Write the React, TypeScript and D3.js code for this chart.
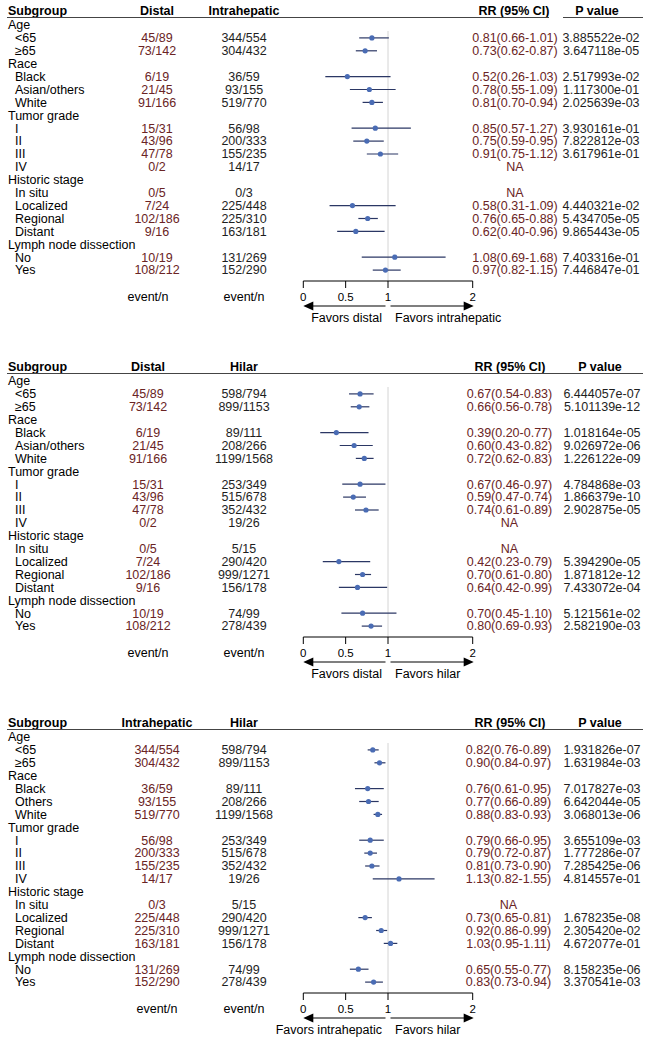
import React from "react";
import * as d3 from "d3";

// ---------- data ----------
const categories = ["Age", "Race", "Tumor grade", "Historic stage", "Lymph node dissection"];
const subgroupsA = [["<65", "≥65"], ["Black", "Asian/others", "White"], ["I", "II", "III", "IV"], ["In situ", "Localized", "Regional", "Distant"], ["No", "Yes"]];
const subgroupsB = [["<65", "≥65"], ["Black", "Others", "White"], ["I", "II", "III", "IV"], ["In situ", "Localized", "Regional", "Distant"], ["No", "Yes"]];
const axisTicks = [0, 0.5, 1, 2];

// Panel 1: Distal vs Intrahepatic
const p1Col1 = ["45/89", "73/142", "6/19", "21/45", "91/166", "15/31", "43/96", "47/78", "0/2", "0/5", "7/24", "102/186", "9/16", "10/19", "108/212"];
const p1Col2 = ["344/554", "304/432", "36/59", "93/155", "519/770", "56/98", "200/333", "155/235", "14/17", "0/3", "225/448", "225/310", "163/181", "131/269", "152/290"];
const p1RR = [0.81, 0.73, 0.52, 0.78, 0.81, 0.85, 0.75, 0.91, null, null, 0.58, 0.76, 0.62, 1.08, 0.97];
const p1Lo = [0.66, 0.62, 0.26, 0.55, 0.70, 0.57, 0.59, 0.75, null, null, 0.31, 0.65, 0.40, 0.69, 0.82];
const p1Hi = [1.01, 0.87, 1.03, 1.09, 0.94, 1.27, 0.95, 1.12, null, null, 1.09, 0.88, 0.96, 1.68, 1.15];
const p1P = ["3.885522e-02", "3.647118e-05", "2.517993e-02", "1.117300e-01", "2.025639e-03", "3.930161e-01", "7.822812e-03", "3.617961e-01", null, null, "4.440321e-02", "5.434705e-05", "9.865443e-05", "7.403316e-01", "7.446847e-01"];

// Panel 2: Distal vs Hilar
const p2Col1 = ["45/89", "73/142", "6/19", "21/45", "91/166", "15/31", "43/96", "47/78", "0/2", "0/5", "7/24", "102/186", "9/16", "10/19", "108/212"];
const p2Col2 = ["598/794", "899/1153", "89/111", "208/266", "1199/1568", "253/349", "515/678", "352/432", "19/26", "5/15", "290/420", "999/1271", "156/178", "74/99", "278/439"];
const p2RR = [0.67, 0.66, 0.39, 0.60, 0.72, 0.67, 0.59, 0.74, null, null, 0.42, 0.70, 0.64, 0.70, 0.80];
const p2Lo = [0.54, 0.56, 0.20, 0.43, 0.62, 0.46, 0.47, 0.61, null, null, 0.23, 0.61, 0.42, 0.45, 0.69];
const p2Hi = [0.83, 0.78, 0.77, 0.82, 0.83, 0.97, 0.74, 0.89, null, null, 0.79, 0.80, 0.99, 1.10, 0.93];
const p2P = ["6.444057e-07", "5.101139e-12", "1.018164e-05", "9.026972e-06", "1.226122e-09", "4.784868e-03", "1.866379e-10", "2.902875e-05", null, null, "5.394290e-05", "1.871812e-12", "7.433072e-04", "5.121561e-02", "2.582190e-03"];

// Panel 3: Intrahepatic vs Hilar
const p3Col1 = ["344/554", "304/432", "36/59", "93/155", "519/770", "56/98", "200/333", "155/235", "14/17", "0/3", "225/448", "225/310", "163/181", "131/269", "152/290"];
const p3Col2 = ["598/794", "899/1153", "89/111", "208/266", "1199/1568", "253/349", "515/678", "352/432", "19/26", "5/15", "290/420", "999/1271", "156/178", "74/99", "278/439"];
const p3RR = [0.82, 0.90, 0.76, 0.77, 0.88, 0.79, 0.79, 0.81, 1.13, null, 0.73, 0.92, 1.03, 0.65, 0.83];
const p3Lo = [0.76, 0.84, 0.61, 0.66, 0.83, 0.66, 0.72, 0.73, 0.82, null, 0.65, 0.86, 0.95, 0.55, 0.73];
const p3Hi = [0.89, 0.97, 0.95, 0.89, 0.93, 0.95, 0.87, 0.90, 1.55, null, 0.81, 0.99, 1.11, 0.77, 0.94];
const p3P = ["1.931826e-07", "1.631984e-03", "7.017827e-03", "6.642044e-05", "3.068013e-06", "3.655109e-03", "1.777286e-07", "7.285425e-06", "4.814557e-01", null, "1.678235e-08", "2.305420e-02", "4.672077e-01", "8.158235e-06", "3.370541e-03"];

// ---------- styling ----------
const FONT = "'Liberation Sans', Arial, sans-serif";
const FS = 12.5;
const RED = "#6a2424";
const DARK = "#1e1e1e";
const CI_COLOR = "#2b3764";
const PT_COLOR = "#4a6cb4";

const x = d3.scaleLinear().domain([0, 2]).range([303.3, 472.7]);

type PanelCfg = {
  top: number;
  h1: string; h2: string;
  c1x: number; c2x: number; ev1x: number;
  rrx: number; px: number; rrhx: number; phx: number;
  favL: string; favR: string;
  subs: string[][];
  col1: string[]; col2: string[];
  rr: (number | null)[]; lo: (number | null)[]; hi: (number | null)[]; p: (string | null)[];
  gap: boolean;
};

function Panel({ cfg }: { cfg: PanelCfg }) {
  const rowsTotal = categories.length + cfg.subs.reduce((a, s) => a + s.length, 0);
  const y = d3.scalePoint<number>().domain(d3.range(rowsTotal)).range([25, 270.1]);
  const rows: { label: string; cat: boolean; di: number }[] = [];
  let di = 0;
  categories.forEach((c, ci) => {
    rows.push({ label: c, cat: true, di: -1 });
    cfg.subs[ci].forEach((s) => {
      rows.push({ label: s, cat: false, di: di++ });
    });
  });
  const t = cfg.top;
  const axisY = 281;
  const arrowY = 306;
  const fmt = (v: number) => v.toFixed(2);
  return (
    <g transform={`translate(0,${t})`} fontFamily={FONT} fontSize={FS}>
      {/* header */}
      <text x={8} y={14.5} fontWeight="bold" fill="#000">Subgroup</text>
      <text x={cfg.c1x} y={14.5} fontWeight="bold" textAnchor="middle" fill="#000">{cfg.h1}</text>
      <text x={cfg.c2x} y={14.5} fontWeight="bold" textAnchor="middle" fill="#000">{cfg.h2}</text>
      <text x={cfg.rrhx} y={14.5} fontWeight="bold" textAnchor="middle" fill="#000">RR (95% CI)</text>
      <text x={cfg.phx} y={14.5} fontWeight="bold" textAnchor="middle" fill="#000">P value</text>
      {cfg.gap ? (
        <>
          <line x1={7} x2={549} y1={17.5} y2={17.5} stroke="#444" strokeWidth={1} />
          <line x1={563} x2={643} y1={17.5} y2={17.5} stroke="#444" strokeWidth={1} />
        </>
      ) : (
        <line x1={7} x2={643} y1={17.5} y2={17.5} stroke="#444" strokeWidth={1} />
      )}
      {/* reference line */}
      <line x1={x(1)} x2={x(1)} y1={31} y2={axisY} stroke="#d4d4d4" strokeWidth={1} />
      {rows.map((r, i) => {
        const yy = y(i) as number;
        if (r.cat) {
          return <text key={i} x={8} y={yy} dy="0.35em" fill="#000">{r.label}</text>;
        }
        const k = r.di;
        const rr = cfg.rr[k];
        const lo = cfg.lo[k];
        const hi = cfg.hi[k];
        return (
          <g key={i}>
            <text x={15} y={yy} dy="0.35em" fill="#000">{r.label}</text>
            <text x={cfg.c1x} y={yy} dy="0.35em" textAnchor="middle" fill={RED}>{cfg.col1[k]}</text>
            <text x={cfg.c2x} y={yy} dy="0.35em" textAnchor="middle" fill={DARK}>{cfg.col2[k]}</text>
            {rr !== null && lo !== null && hi !== null ? (
              <>
                <line x1={x(lo)} x2={x(hi)} y1={yy} y2={yy} stroke={CI_COLOR} strokeWidth={1.2} />
                <circle cx={x(rr)} cy={yy} r={2.6} fill={PT_COLOR} />
                <text x={cfg.rrx} y={yy} dy="0.35em" textAnchor="middle" fill={RED}>{`${fmt(rr)}(${fmt(lo)}-${fmt(hi)})`}</text>
                <text x={cfg.px} y={yy} dy="0.35em" textAnchor="middle" fill={DARK}>{cfg.p[k]}</text>
              </>
            ) : (
              <text x={cfg.rrx} y={yy} dy="0.35em" textAnchor="middle" fill={RED}>NA</text>
            )}
          </g>
        );
      })}
      {/* axis */}
      <line x1={x(0)} x2={x(2)} y1={axisY} y2={axisY} stroke="#000" strokeWidth={1} />
      {axisTicks.map((tk) => (
        <g key={tk}>
          <line x1={x(tk)} x2={x(tk)} y1={axisY} y2={axisY + 7} stroke="#000" strokeWidth={1} />
          <text x={x(tk)} y={297} dy="0.35em" textAnchor="middle" fontSize={11.5} fill="#000">{String(tk)}</text>
        </g>
      ))}
      <text x={cfg.ev1x} y={297} dy="0.35em" textAnchor="middle" fill="#000">event/n</text>
      <text x={cfg.c2x} y={297} dy="0.35em" textAnchor="middle" fill="#000">event/n</text>
      {/* arrows */}
      <line x1={x(0) + 8} x2={x(1) - 2.5} y1={arrowY} y2={arrowY} stroke="#000" strokeWidth={1.2} />
      <polygon points={`${x(0)},${arrowY} ${x(0) + 10},${arrowY - 4.5} ${x(0) + 10},${arrowY + 4.5}`} fill="#000" />
      <line x1={x(1) + 2.5} x2={x(2) - 8} y1={arrowY} y2={arrowY} stroke="#000" strokeWidth={1.2} />
      <polygon points={`${x(2) + 1},${arrowY} ${x(2) - 9},${arrowY - 4.5} ${x(2) - 9},${arrowY + 4.5}`} fill="#000" />
      <text x={x(1) - 6} y={318} dy="0.35em" textAnchor="end" fill="#000">{cfg.favL}</text>
      <text x={x(1) + 7} y={318} dy="0.35em" textAnchor="start" fill="#000">{cfg.favR}</text>
    </g>
  );
}

const panels: PanelCfg[] = [
  { top: 0, h1: "Distal", h2: "Intrahepatic", c1x: 157, c2x: 244, ev1x: 148, rrx: 515, px: 601, rrhx: 514, phx: 597, favL: "Favors distal", favR: "Favors intrahepatic", subs: subgroupsA, col1: p1Col1, col2: p1Col2, rr: p1RR, lo: p1Lo, hi: p1Hi, p: p1P, gap: true },
  { top: 356, h1: "Distal", h2: "Hilar", c1x: 148, c2x: 244, ev1x: 148, rrx: 509.5, px: 602, rrhx: 510, phx: 600, favL: "Favors distal", favR: "Favors hilar", subs: subgroupsA, col1: p2Col1, col2: p2Col2, rr: p2RR, lo: p2Lo, hi: p2Hi, p: p2P, gap: false },
  { top: 712, h1: "Intrahepatic", h2: "Hilar", c1x: 157, c2x: 244, ev1x: 157, rrx: 508.5, px: 602, rrhx: 510, phx: 600, favL: "Favors intrahepatic", favR: "Favors hilar", subs: subgroupsB, col1: p3Col1, col2: p3Col2, rr: p3RR, lo: p3Lo, hi: p3Hi, p: p3P, gap: false },
];

export default function App() {
  return (
    <svg width={648} height={1044} style={{ position: "absolute", left: 0, top: 0, background: "#fff" }}>
      <rect x={0} y={0} width={648} height={1044} fill="#fff" />
      {panels.map((p, i) => (
        <Panel key={i} cfg={p} />
      ))}
    </svg>
  );
}
